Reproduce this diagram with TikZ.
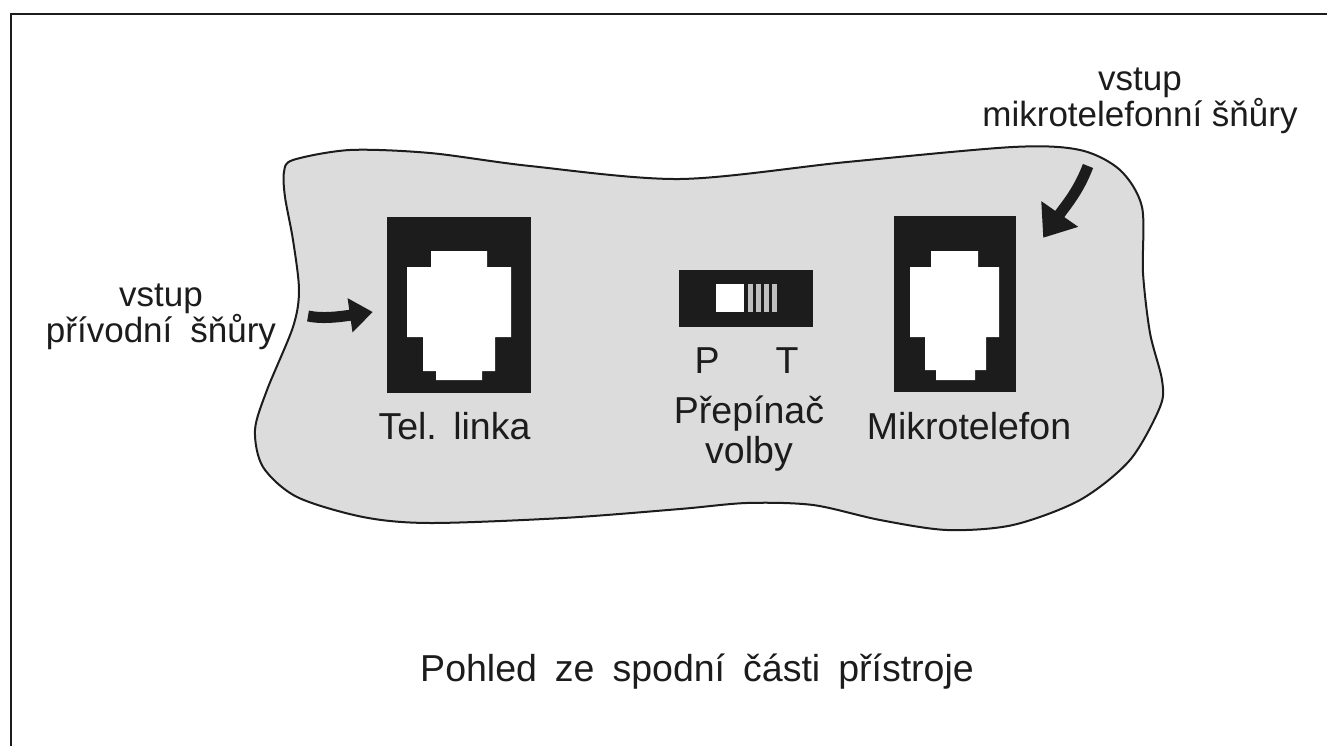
\documentclass[tikz,border=0pt]{standalone}
\usepackage{fontspec}
\setmainfont{Liberation Sans}
\usetikzlibrary{positioning}
\usetikzlibrary{arrows.meta}
\definecolor{inkdark}{HTML}{1C1C1C}
\definecolor{platefill}{HTML}{DCDCDC}
\definecolor{slidebar}{HTML}{BFBFBF}
\begin{document}
\begin{tikzpicture}[x=1pt ,y=-1pt ,node distance =8pt ,
    jack/.style ={ rectangle ,fill = inkdark ,inner sep = 0pt ,minimum height = 176pt},
    caption/.style ={ text = inkdark ,inner sep = 0pt ,align = center ,font = \fontsize{37.5}{40}\selectfont},
    cordlabel/.style ={ text = inkdark ,inner sep = 0pt ,align = center ,font = \fontsize{35}{36}\selectfont},
    cordarrow/.style ={ draw = inkdark ,line width = 11pt ,-{Triangle[length=23pt,width=33pt]}}]
    \useasboundingbox (0,0) rectangle (1327,746);
    \draw[inkdark, line width = 2.6pt] (11,746) -- (11,14) -- (1327,14);
    % plate outline
    \draw[inkdark, fill = platefill, line width = 2pt] plot[smooth cycle, tension = 0.5] coordinates {
      (293,160) (350,150) (430,153) (530,166) (680,179) (847,162) (1013,147) (1080,150)
      (1120,170) (1142,207) (1143,273) (1150,333) (1162,380) (1160,407) (1130,460)
      (1080,500) (1013,525) (947,530) (880,520) (813,505) (747,503) (680,509) (563,518)
      (430,523) (363,517) (297,497) (263,467) (255,430) (267,390) (293,327) (299,290)
      (293,240) (285,197) (284,172)};

    \node[jack, minimum width = 144pt] (linka) at (459,304.5) {};
    \node[jack, minimum width = 122pt] (mikro) at (955,304) {};
    \node[rectangle, fill = inkdark, inner sep = 0pt, minimum width = 134pt, minimum height = 57pt] (prepinac) at (746,298.5) {};

    % socket openings
    \fill[white] (431,251) -- (487,251) -- (487,267) -- (511,267) -- (511,337) -- (495,337) -- (495,371)
      -- (482,371) -- (482,380) -- (436,380) -- (436,371) -- (423,371) -- (423,337) -- (407,337) -- (407,267) -- (431,267) -- cycle;
    \fill[white] (931,251) -- (978,251) -- (978,267) -- (999,267) -- (999,337) -- (986,337) -- (986,370)
      -- (975,370) -- (975,380) -- (936,380) -- (936,370) -- (925,370) -- (925,337) -- (910,337) -- (910,267) -- (931,267) -- cycle;
    % slide
    \fill[white] (716,284) rectangle (744,312);
    \foreach \xbar in {748,756,764,772} {
      \fill[slidebar] (\xbar,284) rectangle (\xbar+4.5,312);
    }

    \node[caption] (telcap) [below = 19pt of linka, xshift = -4.5pt] {\spaceskip=13pt Tel. linka};
    \node[caption] (mikrocap) [below = 20pt of mikro, xshift = 14pt] {Mikrotelefon};
    \node[caption] (pcap) at (707,361) {P};
    \node[caption] (tcap) at (787,361) {T};
    \node[caption] (volbacap) [below = 68pt of prepinac.south, xshift = 3pt] {Přepínač\\volby};
    \node[cordlabel] (vstupleft) at (161,316.5) {vstup\\\spaceskip=18pt přívodní šňůry};
    \node[cordlabel] (vstupright) at (1140,101) {vstup\\mikrotelefonní šňůry};
    \node[caption] (pohled) at (697,672) {\spaceskip=18pt Pohled ze spodní části přístroje};

    \coordinate (leftstart) at (308,316);
    \coordinate (lefttip) at ([shift={(-14,7.5)}]linka.west);
    \coordinate (rightstart) at (1088,166);
    \coordinate (righttip) at ([shift={(27,22)}]mikro.north east);
    \path[cordarrow] (leftstart) .. controls (322,319) and (338,317) .. (lefttip);
    \path[cordarrow, -{Triangle[length=29pt,width=43pt]}] (rightstart) .. controls (1078,192) and (1066,205) .. (righttip);
\end{tikzpicture}
\end{document}
